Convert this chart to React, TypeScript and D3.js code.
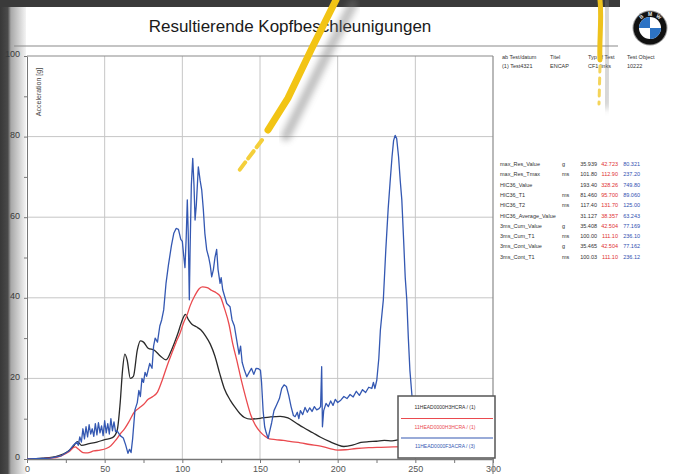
import React, { useRef, useEffect } from "react";
import * as d3 from "d3";

const title = "Resultierende Kopfbeschleunigungen";
const yAxisLabel = "Acceleration [g]";

// time [ms] / resultant acceleration [g]
const blackTime = [0, 10, 20, 26, 30, 32.5, 35, 40, 45, 50, 55, 58, 60, 61.5, 63, 64.5, 66.5, 68.5, 71, 73, 75, 78, 82, 86, 89.5, 93, 97, 100, 102, 104, 106, 109, 112, 115, 118, 121, 124, 127, 131, 134, 137, 140, 144, 150, 156, 163, 168, 173, 178, 184, 189, 195, 200, 204, 210, 215, 220, 225, 230, 235, 240, 250, 260];
const blackAcc = [0, 0.2, 0.8, 1.8, 3.2, 4.3, 3.4, 3.8, 4.2, 4.8, 5.3, 7, 14, 22, 26, 24.5, 20, 20.5, 27, 29.3, 29, 27.5, 27, 25.5, 24.6, 27, 31, 34.5, 35.9, 34.5, 33.5, 32.8, 32, 30.5, 28.5, 25.5, 21.3, 17.5, 14.5, 12.8, 11.3, 10.3, 9.9, 10.1, 10.4, 10.6, 10.2, 9, 7.8, 6.5, 5.4, 4.3, 3.5, 3.1, 3.5, 4.1, 4.3, 4.4, 4.6, 4.5, 4.8, 5, 5];

const redTime = [0, 15, 22, 27, 31, 33, 36, 39, 43, 47, 51, 54, 57, 60, 63, 66, 69, 72, 75, 78, 81, 84, 87, 90, 93, 96, 98.5, 101, 103, 105, 108, 111, 113, 116, 119, 122, 124.5, 127, 130, 132.5, 135, 138, 141, 144, 147, 150, 153, 156, 160, 165, 170, 176, 182, 189, 195, 200, 205, 212, 220, 228, 236, 245, 260];
const redAcc = [0, 0.2, 0.8, 1.8, 3, 2.5, 1.6, 1.5, 2, 2.2, 2.6, 3.3, 4.6, 6.2, 7.6, 9.5, 11.6, 12.6, 13.5, 14.8, 15.5, 16.6, 19.5, 22.9, 26, 29, 31.2, 34, 35.7, 38, 40.5, 42.3, 42.7, 42.5, 41.8, 41.2, 40.3, 37.5, 33.5, 28.5, 24.6, 19.5, 15, 11, 8.4, 6.8, 5.7, 5, 4.8, 4.6, 4.3, 4, 3.6, 3.2, 2.6, 2.2, 2.3, 2.6, 2.8, 2.9, 3, 3.1, 3.2];

const blueTime = [0, 15, 22, 27, 30, 32, 33, 34, 35, 36, 37, 38, 39, 40, 41, 42, 43, 44, 45, 46, 47, 48, 49, 50, 51, 52, 53, 54, 55, 56, 57, 58, 60, 62, 63.5, 65, 66, 67, 68, 69.5, 71, 72, 73, 74, 75, 76, 77, 79, 80.5, 81.5, 82.5, 84, 85.5, 86.7, 88, 89.5, 91, 93, 94.5, 96, 97.5, 99, 100, 101, 101.7, 102.5, 103.2, 103.8, 104.5, 105, 105.8, 106.7, 107.5, 108.2, 109, 110.3, 111.5, 112.5, 113.5, 114.5, 115.7, 117, 118, 118.9, 120, 121, 122.1, 123, 124.3, 125, 126, 127.5, 128.6, 130.7, 132, 133.5, 135, 136.5, 137.5, 138.5, 140, 141.5, 143, 144.5, 146, 147.5, 149, 150.3, 151, 152, 153, 154, 155.3, 156, 157.5, 159, 160.8, 162.5, 164, 165.5, 167, 168.5, 170, 171.5, 172.6, 174, 175, 176, 177.5, 179, 180.5, 182, 183.5, 185, 186.5, 188, 189, 189.7, 190.2, 191, 192.5, 194, 195.5, 197, 198.5, 200, 202, 204, 206, 208, 210, 212, 214, 216, 218, 220, 222, 223, 224, 225.2, 226.5, 227.5, 229.4, 231, 232.5, 233.7, 235, 236, 237, 238, 239.2, 240.3, 241.3, 242.5, 243.5, 244.5, 245.5, 246.5, 247.7, 249, 250, 252, 260];
const blueAcc = [0, 0.2, 0.8, 2, 3.5, 4.2, 3.4, 5.5, 4.2, 7.5, 5, 8, 5.5, 8.5, 6.2, 7.5, 5.6, 8.8, 6, 9, 6.5, 8.2, 5.8, 9.5, 6.5, 8.8, 6.2, 10, 7, 9.2, 6.8, 7, 5.8, 5.2, 3.5, 1.4, 2.4, 1.6, 5, 12.2, 14, 17, 15.5, 20, 19, 21.5, 20.5, 23.7, 22.5, 28, 30, 29, 33, 34.5, 37, 43.6, 48, 53, 56, 57.2, 57, 54.5, 54, 50, 47.5, 55, 64.3, 56, 39.5, 52, 68, 74.6, 68, 59.3, 63, 72.5, 69, 66.7, 62, 56, 51.9, 50, 48, 45.2, 47, 50, 52, 47, 43.6, 45, 42, 40, 38.6, 37.8, 34.5, 33, 29.5, 26, 28, 24, 22, 20.4, 21.5, 22.5, 21, 22.5, 22.4, 22, 19, 12, 8, 6.5, 5.1, 6.5, 9, 12, 13.5, 15, 17.5, 18.4, 18, 15.8, 13, 10.8, 10.5, 11.6, 10, 12, 11, 12.8, 11.6, 12.7, 11.8, 13, 12.2, 12.5, 13, 22.9, 8, 12, 13.8, 13, 14.4, 13.3, 14.8, 14, 14.6, 15.5, 15, 16, 15.4, 16.8, 15.8, 17.2, 16.5, 17.8, 17.5, 19, 17.5, 19.6, 25, 32, 39.5, 52, 62, 68.4, 75, 79, 80.3, 79.5, 75, 69, 64.3, 54, 45, 39.5, 30, 22, 16.3, 10, 6, 4, 4];

const legendLabels = ["11HEAD0000H3HCRA / (1)", "11HEAD0000H3HCRA / (1)", "11HEAD0000F3ACRA / (3)"];
const seriesColors = ["#2a2a2a", "#ea4a4f", "#3458b2"];

const headerNames = ["ab Test/datum", "Titel", "Typ of Test", "Test Object"];
const headerValues = ["(1) Test4321", "ENCAP", "CF1 links", "10222"];

const resultNames = ["max_Res_Value", "max_Res_Tmax", "HIC36_Value", "HIC36_T1", "HIC36_T2", "HIC36_Average_Value", "3ms_Cum_Value", "3ms_Cum_T1", "3ms_Cont_Value", "3ms_Cont_T1"];
const resultUnits = ["g", "ms", "", "ms", "ms", "", "g", "ms", "g", "ms"];
const resultBlack = ["35.939", "101.80", "193.40", "81.460", "117.40", "31.127", "35.408", "100.00", "35.465", "100.03"];
const resultRed = ["42.723", "112.90", "328.26", "95.700", "131.70", "38.357", "42.504", "111.10", "42.504", "111.10"];
const resultBlue = ["80.321", "237.20", "749.80", "89.060", "125.00", "63.243", "77.169", "236.10", "77.162", "236.12"];

const App = () => {
  const ref = useRef(null);

  useEffect(() => {
    document.body.style.margin = "0";
    const svg = d3.select(ref.current);
    svg.selectAll("*").remove();

    const width = 687;
    const height = 474;
    const font = "'Liberation Sans', Arial, sans-serif";
    svg.attr("width", width).attr("height", height).style("font-family", font);

    const x = d3.scaleLinear().domain([0, 300]).range([27, 493]);
    const y = d3.scaleLinear().domain([0, 100]).range([459, 56]);

    const defs = svg.append("defs");
    const lg = defs.append("linearGradient").attr("id", "edge").attr("x1", 0).attr("x2", 1);
    lg.append("stop").attr("offset", "0%").attr("stop-color", "#383838");
    lg.append("stop").attr("offset", "30%").attr("stop-color", "#4a4a4a");
    lg.append("stop").attr("offset", "42%").attr("stop-color", "#a8a8a8");
    lg.append("stop").attr("offset", "100%").attr("stop-color", "#f4f4f4");
    defs.append("filter").attr("id", "blur").append("feGaussianBlur").attr("stdDeviation", 3);
    defs.append("clipPath").attr("id", "plot")
      .append("rect").attr("x", x(0)).attr("y", y(100)).attr("width", x(300) - x(0)).attr("height", y(0) - y(100));

    // page
    svg.append("rect").attr("width", width).attr("height", height).attr("fill", "#ffffff");
    svg.append("rect").attr("x", 0).attr("y", 0).attr("width", 26).attr("height", height).attr("fill", "url(#edge)");
    svg.append("rect").attr("x", 0).attr("y", 0).attr("width", 620).attr("height", 7).attr("fill", "#3a3a3a");

    // title band
    svg.append("text").attr("x", 290).attr("y", 32).attr("text-anchor", "middle")
      .attr("font-size", 17).attr("fill", "#1a1a1a").text(title);
    svg.append("line").attr("x1", 14).attr("x2", 618).attr("y1", 46).attr("y2", 46)
      .attr("stroke", "#8a8a8a").attr("stroke-width", 1.2);

    // logo
    const logo = svg.append("g").attr("transform", "translate(650,28)");
    logo.append("circle").attr("r", 17.5).attr("fill", "#9a9a9a");
    logo.append("circle").attr("r", 16.5).attr("fill", "#111");
    logo.append("circle").attr("r", 11).attr("fill", "#ffffff");
    const arc = d3.arc().innerRadius(0).outerRadius(11);
    [[-Math.PI / 2, 0], [Math.PI / 2, Math.PI]].forEach(([a0, a1]) => {
      logo.append("path").attr("d", arc({ startAngle: a0, endAngle: a1 })).attr("fill", "#2d73c4");
    });
    ["B", "M", "W"].forEach((ch, i) => {
      const a = (i - 1) * 38;
      logo.append("text").attr("transform", `rotate(${a}) translate(0,-12.5)`)
        .attr("text-anchor", "middle").attr("font-size", 5).attr("font-weight", "bold")
        .attr("fill", "#eee").text(ch);
    });

    // grid
    const grid = svg.append("g").attr("stroke", "#c6c6c6").attr("stroke-width", 1);
    grid.selectAll(".h").data([20, 40, 60, 80]).join("line")
      .attr("x1", x(0)).attr("x2", x(300)).attr("y1", (d) => y(d)).attr("y2", (d) => y(d));
    grid.selectAll(".v").data([50, 100, 150, 200, 250]).join("line")
      .attr("y1", y(0)).attr("y2", y(100)).attr("x1", (d) => x(d)).attr("x2", (d) => x(d));

    // axes
    const yAxis = svg.append("g").attr("transform", `translate(${x(0)},0)`)
      .call(d3.axisLeft(y).tickValues(d3.range(0, 101, 10)).tickSize(3).tickSizeOuter(0).tickPadding(4)
        .tickFormat((d) => (d % 20 === 0 ? String(d) : "")));
    yAxis.select(".domain").attr("stroke", "#777");
    yAxis.selectAll("line").attr("stroke", "#777");
    yAxis.selectAll("text").attr("font-size", 9).attr("fill", "#3a3a3a").attr("dy", "0.1em").style("font-family", font);

    const xAxis = svg.append("g").attr("transform", `translate(0,${y(0)})`)
      .call(d3.axisBottom(x).tickValues(d3.range(0, 301, 25)).tickSize(4).tickSizeOuter(0).tickPadding(3)
        .tickFormat((d) => (d % 50 === 0 ? String(d) : "")));
    xAxis.select(".domain").attr("stroke", "#777").attr("stroke-width", 1.5);
    xAxis.selectAll("line").attr("stroke", "#777");
    xAxis.selectAll("text").attr("font-size", 9).attr("fill", "#555").style("font-family", font);

    // frame
    svg.append("line").attr("x1", x(0)).attr("x2", x(300)).attr("y1", y(100)).attr("y2", y(100))
      .attr("stroke", "#8a8a8a").attr("stroke-width", 1.2);
    svg.append("line").attr("x1", x(300)).attr("x2", x(300)).attr("y1", y(100)).attr("y2", height)
      .attr("stroke", "#8a8a8a").attr("stroke-width", 1.2);

    svg.append("text").attr("transform", `translate(41,92) rotate(-90)`).attr("text-anchor", "middle")
      .attr("font-size", 7).attr("fill", "#444").text(yAxisLabel);

    // curves
    const series = [
      { t: blackTime, g: blackAcc, curve: d3.curveMonotoneX },
      { t: redTime, g: redAcc, curve: d3.curveMonotoneX },
      { t: blueTime, g: blueAcc, curve: d3.curveLinear },
    ];
    const plot = svg.append("g").attr("clip-path", "url(#plot)");
    series.forEach((s, k) => {
      const line = d3.line()
        .x((d, i) => x(s.t[i]))
        .y((d) => y(d))
        .curve(s.curve);
      plot.append("path").attr("d", line(s.g)).attr("fill", "none")
        .attr("stroke", seriesColors[k]).attr("stroke-width", 1.3).attr("stroke-linejoin", "round");
    });

    // legend
    const leg = svg.append("g");
    leg.append("rect").attr("x", 398).attr("y", 396).attr("width", 97).attr("height", 62)
      .attr("fill", "#fff").attr("stroke", "#555").attr("stroke-width", 1.5);
    legendLabels.forEach((lab, i) => {
      leg.append("text").attr("x", 445).attr("y", 409 + i * 19.5).attr("text-anchor", "middle")
        .attr("font-size", 5).attr("fill", seriesColors[i]).text(lab);
      if (i < 2) {
        leg.append("line").attr("x1", 401).attr("x2", 493)
          .attr("y1", 418.5 + i * 19.5).attr("y2", 418.5 + i * 19.5)
          .attr("stroke", seriesColors[i + 1]).attr("stroke-width", 1.2);
      }
    });

    // info table
    const headerX = [502, 550, 588, 627];
    headerNames.forEach((h, i) => {
      svg.append("text").attr("x", headerX[i]).attr("y", 59).attr("font-size", 5.5).attr("fill", "#333").text(h);
      svg.append("text").attr("x", headerX[i]).attr("y", 68).attr("font-size", 5.5).attr("fill", "#333").text(headerValues[i]);
    });
    resultNames.forEach((n, i) => {
      const ry = 166 + i * 10.3;
      svg.append("text").attr("x", 500).attr("y", ry).attr("font-size", 5.5).attr("fill", "#333").text(n);
      svg.append("text").attr("x", 562).attr("y", ry).attr("font-size", 5.5).attr("fill", "#333").text(resultUnits[i]);
      svg.append("text").attr("x", 597).attr("y", ry).attr("text-anchor", "end").attr("font-size", 5.5).attr("fill", "#333").text(resultBlack[i]);
      svg.append("text").attr("x", 618).attr("y", ry).attr("text-anchor", "end").attr("font-size", 5.5).attr("fill", "#e03030").text(resultRed[i]);
      svg.append("text").attr("x", 640).attr("y", ry).attr("text-anchor", "end").attr("font-size", 5.5).attr("fill", "#2f4fb0").text(resultBlue[i]);
    });

    // yellow marker streaks on the photographed slide
    const streaks = svg.append("g").attr("fill", "none").attr("stroke-linecap", "round");
    streaks.append("path").attr("d", "M345,0 L318,52 L292,104 L278,132")
      .attr("stroke", "#777").attr("stroke-width", 10).attr("opacity", 0.45).attr("filter", "url(#blur)")
      .attr("transform", "translate(8,4)");
    streaks.append("path").attr("d", "M336,0 L312,48 L288,98 L268,130")
      .attr("stroke", "#f2c414").attr("stroke-width", 7);
    streaks.append("path").attr("d", "M262,140 L238,172")
      .attr("stroke", "#f4cf3a").attr("stroke-width", 4).attr("stroke-dasharray", "9 5");
    streaks.append("path").attr("d", "M606,0 L608,50 L606,105")
      .attr("stroke", "#888").attr("stroke-width", 9).attr("opacity", 0.4).attr("filter", "url(#blur)");
    streaks.append("path").attr("d", "M600,0 C602,20 599,40 600,60")
      .attr("stroke", "#eec21c").attr("stroke-width", 5);
    streaks.append("path").attr("d", "M600,66 L599,104")
      .attr("stroke", "#f4d45a").attr("stroke-width", 3).attr("stroke-dasharray", "6 6");
  }, []);

  return <svg ref={ref} style={{ position: "absolute", left: 0, top: 0, display: "block" }}></svg>;
};

export default App;
